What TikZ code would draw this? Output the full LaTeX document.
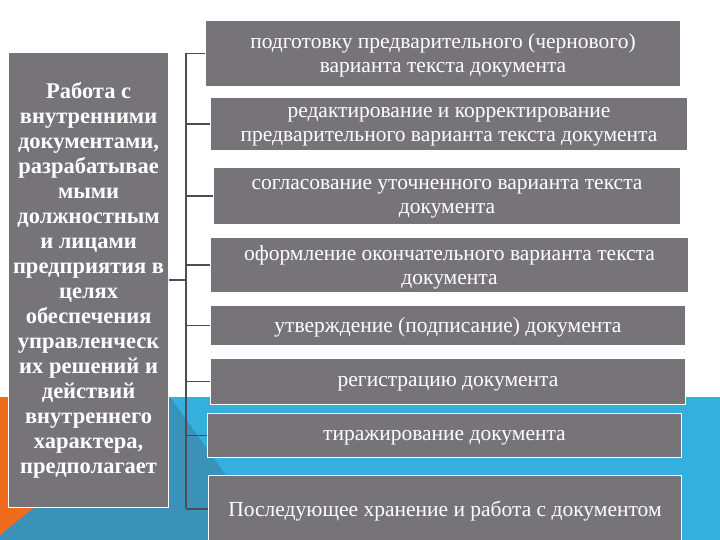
\documentclass[tikz,border=0pt]{standalone}
\usepackage{fontspec}
\setmainfont{Liberation Serif}
\usetikzlibrary{positioning}
\definecolor{boxgray}{RGB}{118,116,121}
\definecolor{bandblue}{RGB}{52,176,222}
\definecolor{banddeep}{RGB}{58,146,184}
\definecolor{bandorange}{RGB}{240,108,28}
\definecolor{spine}{RGB}{78,78,80}

\begin{document}
\begin{tikzpicture}[x=1pt,y=-1pt,
  mainbox/.style={draw=white,line width=1.2pt,fill=boxgray,text=white,
    anchor=north west,align=center,inner sep=0pt,minimum width=160pt,
    font=\fontsize{22.5}{25}\selectfont\bfseries},
  stepbox/.style={draw=white,line width=1pt,fill=boxgray,text=white,
    anchor=north west,align=center,inner sep=0pt,text depth=0pt,
    font=\fontsize{21.5}{24}\selectfont},
  tick/.style={spine,line width=1.6pt},
]
  \useasboundingbox (0,0) rectangle (720,540);
  % background band
  \fill[bandblue] (0,397) rectangle (720,540);
  \fill[banddeep] (0,397) -- (170,397) -- (272,540) -- (0,540) -- cycle;
  \fill[bandorange] (0,397) -- (170,397) -- (0,535) -- cycle;

  \node[mainbox,minimum height=455pt] (work) at (8,52) {Работа с\\внутренними\\документами,\\разрабатывае\\мыми\\должностным\\и лицами\\предприятия в\\целях\\обеспечения\\управленческ\\их решений и\\действий\\внутреннего\\характера,\\предполагает};

  \node[stepbox,minimum width=475pt,minimum height=66pt] (draft) at (205,20) {подготовку предварительного (чернового)\\варианта текста документа};
  \node[stepbox,minimum width=477pt,minimum height=53pt] (edit) at (210,97) {редактирование и корректирование\\предварительного варианта текста документа};
  \node[stepbox,minimum width=467pt,minimum height=57pt] (agree) at (213,167) {согласование уточненного варианта текста\\документа};
  \node[stepbox,minimum width=478pt,minimum height=55pt] (final) at (210,237) {оформление окончательного варианта текста\\документа};
  \node[stepbox,minimum width=475pt,minimum height=40pt] (sign) at (210,305) {утверждение (подписание) документа};
  \node[stepbox,minimum width=475pt,minimum height=46pt] (reg) at (210,358) {регистрацию документа};
  \node[stepbox,minimum width=474pt,minimum height=44pt] (copy) at (207,413) {тиражирование документа};
  \node[stepbox,minimum width=473pt,minimum height=67pt] (store) at (208,475) {Последующее хранение и работа с документом};

  % bracket
  \coordinate (top) at (186,53);
  \coordinate (bot) at (186,508);
  \draw[tick] (top) -- (bot);
  \draw[tick] (work.east) -- (work.east -| top);
  \foreach \s in {draft,edit,agree,final,sign,reg,copy,store}
    \draw[tick] (\s.west) -- (\s.west -| top);
\end{tikzpicture}
\end{document}
